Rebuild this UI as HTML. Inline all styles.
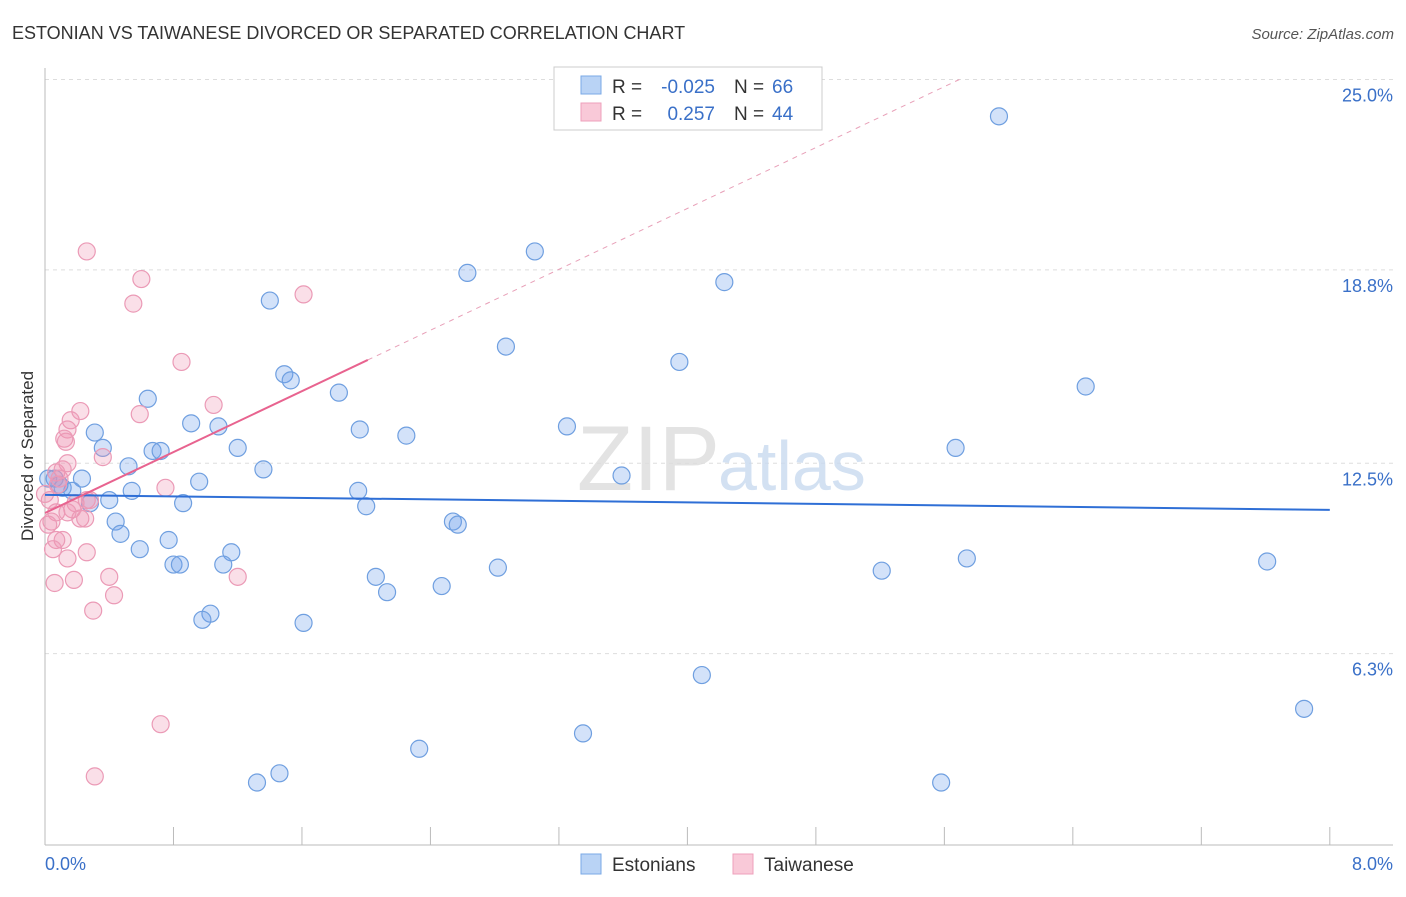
<!DOCTYPE html>
<html><head><meta charset="utf-8">
<style>
body{margin:0;background:#fff;font-family:"Liberation Sans",sans-serif;}
svg text{font-family:"Liberation Sans",sans-serif;}
</style></head>
<body>
<svg id="chart" width="1406" height="892" xmlns="http://www.w3.org/2000/svg">
<text x="12" y="39" font-size="18" fill="#333">ESTONIAN VS TAIWANESE DIVORCED OR SEPARATED CORRELATION CHART</text>
<text x="1394" y="39" font-size="15" fill="#555" text-anchor="end" font-style="italic">Source: ZipAtlas.com</text>
<g id="grid"></g>
<text x="720" y="490" font-size="92" fill="#ddd" text-anchor="end" font-family="Liberation Serif" opacity="0.8">ZIP</text>
<text x="718" y="490" font-size="70" fill="#c9daf0" opacity="0.8">atlas</text>
<g id="marks"></g>
<text transform="translate(33,456) rotate(-90)" font-size="17" fill="#333" text-anchor="middle">Divorced or Separated</text>
<text x="45" y="870" font-size="18" fill="#3a70c8">0.0%</text>
<text x="1393" y="870" font-size="18" fill="#3a70c8" text-anchor="end">8.0%</text>
<g>
<rect x="554" y="67" width="268" height="63" fill="#fff" stroke="#ccc"/>
<rect x="581" y="76" width="20" height="18" fill="#b9d3f5" stroke="#7aa8e6"/>
<rect x="581" y="103" width="20" height="18" fill="#f9c9d8" stroke="#eea0bb"/>
<text x="612" y="93" font-size="19" fill="#333">R =</text>
<text x="715" y="93" font-size="19" fill="#3a70c8" text-anchor="end">-0.025</text>
<text x="734" y="93" font-size="19" fill="#333">N =</text>
<text x="772" y="93" font-size="19" fill="#3a70c8">66</text>
<text x="612" y="120" font-size="19" fill="#333">R =</text>
<text x="715" y="120" font-size="19" fill="#3a70c8" text-anchor="end">0.257</text>
<text x="734" y="120" font-size="19" fill="#333">N =</text>
<text x="772" y="120" font-size="19" fill="#3a70c8">44</text>
</g>
<g>
<rect x="581" y="854" width="20" height="20" fill="#b9d3f5" stroke="#7aa8e6"/>
<text x="612" y="871" font-size="19" fill="#333">Estonians</text>
<rect x="733" y="854" width="20" height="20" fill="#f9c9d8" stroke="#eea0bb"/>
<text x="764" y="871" font-size="19" fill="#333">Taiwanese</text>
</g>
</svg>
<script>
const yTicks=[25.0,18.8,12.5,6.3];
const yTickLabels=["25.0%","18.8%","12.5%","6.3%"];
const xTicks=[0,0.8,1.6,2.4,3.2,4.0,4.8,5.6,6.4,7.2,8.0];
const estX=[5.94,3.05,2.63,4.23,1.40,2.87,3.95,1.49,1.53,1.83,6.48,0.64,0.91,1.08,1.96,0.31,2.25,3.25,0.36,0.67,0.72,1.20,5.67,0.52,1.36,3.59,0.23,0.96,0.06,0.11,0.17,0.54,1.95,0.40,0.28,0.86,2.00,2.54,2.57,0.44,0.47,0.77,0.59,1.16,2.82,5.21,5.74,7.61,0.80,0.84,1.11,2.06,2.13,2.47,1.03,0.98,1.61,4.09,7.84,3.35,2.33,1.46,1.32,5.58,0.02,0.09];
const estY=[23.8,19.4,18.7,18.4,17.8,16.3,15.8,15.4,15.2,14.8,15.0,14.6,13.8,13.7,13.6,13.5,13.4,13.7,13.0,12.9,12.9,13.0,13.0,12.4,12.3,12.1,12.0,11.9,12.0,11.7,11.6,11.6,11.6,11.3,11.2,11.2,11.1,10.6,10.5,10.6,10.2,10.0,9.7,9.6,9.1,9.0,9.4,9.3,9.2,9.2,9.2,8.8,8.3,8.5,7.6,7.4,7.3,5.6,4.5,3.7,3.2,2.4,2.1,2.1,12.0,11.8];
const taiX=[0.26,0.60,0.55,1.61,0.85,1.05,0.22,0.59,0.16,0.14,0.12,0.13,0.36,0.14,0.07,0.09,0.75,0.26,0.19,0.17,0.22,0.07,0.04,0.02,0.11,0.07,0.26,0.05,0.14,0.40,0.18,0.06,1.20,0.43,0.30,0.72,0.31,0.03,0.25,0.08,0.11,0.00,0.28,0.14];
const taiY=[19.4,18.5,17.7,18.0,15.8,14.4,14.2,14.1,13.9,13.6,13.3,13.2,12.7,12.5,12.2,12.0,11.7,11.3,11.2,11.0,10.7,10.9,10.6,10.5,10.0,10.0,9.6,9.7,9.4,8.8,8.7,8.6,8.8,8.2,7.7,4.0,2.3,11.3,10.7,11.8,12.3,11.5,11.3,10.9];
const estLine=[11.47,10.98];
const taiLine=[10.88,2.48];
const X=v=>45+v*160.6, Y=v=>847-v*30.7;
const ns="http://www.w3.org/2000/svg";
const grid=document.getElementById('grid'), marks=document.getElementById('marks');
function mk(tag,attrs,parent){const e=document.createElementNS(ns,tag);for(const k in attrs)e.setAttribute(k,attrs[k]);parent.appendChild(e);return e;}
yTicks.forEach((t,i)=>{
 const l=mk('line',{x1:45,x2:1393,y1:Y(t),y2:Y(t),stroke:'#ddd','stroke-dasharray':'4,4'},grid);
 
 
 const tx=mk('text',{x:1393,y:Y(t)+22,'font-size':18,fill:'#3a70c8','text-anchor':'end'},grid);
 tx.textContent=yTickLabels[i];
 
 
});
const ax=mk('line',{x1:45,x2:1393,y1:845,y2:845,stroke:'#bbb'},grid);


const ay=mk('line',{x1:45,x2:45,y1:68,y2:845,stroke:'#bbb'},grid);


xTicks.forEach(t=>{
 const l=mk('line',{x1:X(t),x2:X(t),y1:827,y2:845,stroke:'#bbb'},grid);
 
 
});
estX.forEach((v,i)=>{
 const c=mk('circle',{cx:X(v),cy:Y(estY[i]),r:8.5,fill:'rgba(110,160,235,0.3)',stroke:'#6f9fe0','stroke-width':1.2},marks);
 
 
});
taiX.forEach((v,i)=>{
 const c=mk('circle',{cx:X(v),cy:Y(taiY[i]),r:8.5,fill:'rgba(240,150,180,0.3)',stroke:'#eb9ab6','stroke-width':1.2},marks);
 
 
});
const el=mk('line',{x1:X(0),y1:Y(estLine[0]),x2:X(8),y2:Y(estLine[1]),stroke:'#2f6fd6','stroke-width':2},marks);


const tEnd=(25-taiLine[0])/taiLine[1];
const td=mk('line',{x1:X(2.01),y1:Y(taiLine[0]+taiLine[1]*2.01),x2:X(tEnd),y2:Y(25),stroke:'#e8a0b8','stroke-width':1,'stroke-dasharray':'5,5'},marks);


const tl=mk('line',{x1:X(0),y1:Y(taiLine[0]),x2:X(2.01),y2:Y(taiLine[0]+taiLine[1]*2.01),stroke:'#e8638f','stroke-width':2},marks);


</script>
</body></html>
